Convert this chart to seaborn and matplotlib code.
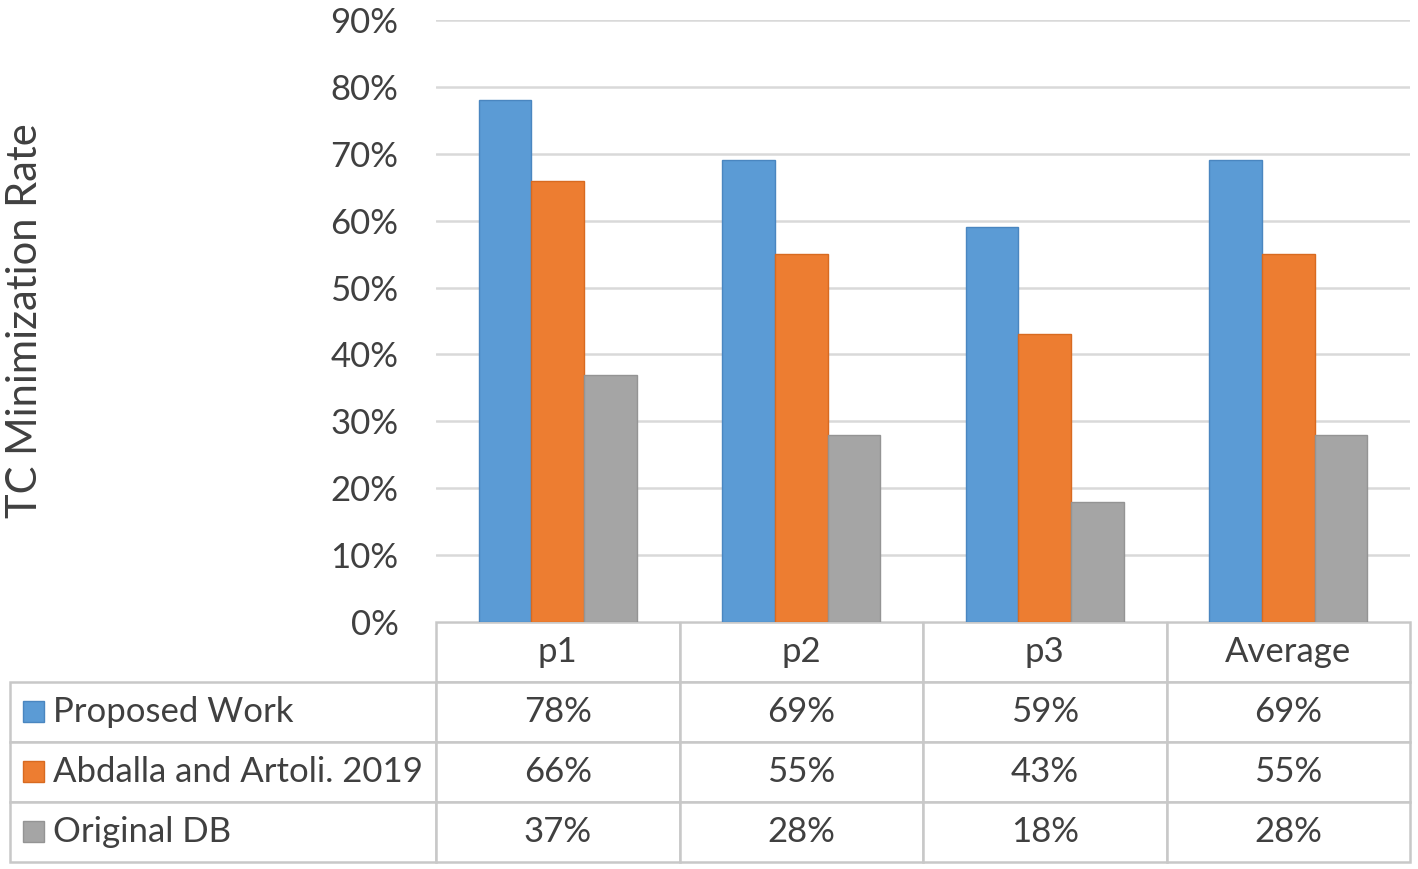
import pandas as pd
import matplotlib.pyplot as plt
import matplotlib.ticker as mtick
from matplotlib.patches import Rectangle
import seaborn as sns

categories = ['p1', 'p2', 'p3', 'Average']
methods = ['Proposed Work', 'Abdalla and Artoli. 2019', 'Original DB']
proposed = [78, 69, 59, 69]
abdalla = [66, 55, 43, 55]
original = [37, 28, 18, 28]
colors = ['#5B9BD5', '#ED7D31', '#A5A5A5']
edges = ['#4A86C0', '#D86A20', '#949494']

rows = []
for m, vals in zip(methods, [proposed, abdalla, original]):
    for c, v in zip(categories, vals):
        rows.append({'period': c, 'method': m, 'rate': v / 100})
df = pd.DataFrame(rows)

sns.set_theme(style='white')
plt.rcParams['font.family'] = ['Lato', 'DejaVu Sans']
txt = '#404040'

fig = plt.figure(figsize=(14.18, 8.69), dpi=100)
ax = fig.add_axes([436 / 1418, 1 - 622 / 869, 974 / 1418, 602 / 869])

sns.barplot(data=df, x='period', y='rate', hue='method', palette=colors,
            width=0.65, ax=ax, legend=False, saturation=1)
for i, cont in enumerate(ax.containers):
    for bar in cont:
        bar.set_edgecolor(edges[i])
        bar.set_linewidth(1)

ax.set_ylim(0, 0.9)
ax.set_yticks([i / 10 for i in range(10)])
ax.yaxis.set_major_formatter(mtick.PercentFormatter(1.0, decimals=0))
ax.grid(axis='y', color='#D9D9D9', linewidth=1.8)
ax.set_axisbelow(True)
for s in ax.spines.values():
    s.set_visible(False)
ax.set_xticklabels([])
ax.set_xlabel('')
ax.tick_params(axis='both', length=0)
ax.tick_params(axis='y', labelsize=25, labelcolor=txt, pad=27)
ax.set_ylabel('TC Minimization Rate', fontsize=30, color=txt)
ax.yaxis.set_label_coords((44 - 436) / 974, 0.5)

# data table under the plot, label column included as first column
cell_text = [[m] + [f'{v}%' for v in vals]
             for m, vals in zip(methods, [proposed, abdalla, original])]
tb_left = (10 - 436) / 974
tb_h = 240 / 602
lab_w = 426 / 974
tbl = ax.table(cellText=cell_text, colLabels=[''] + categories,
               colWidths=[lab_w] + [0.25] * 4, cellLoc='center',
               loc='bottom', bbox=[tb_left, -tb_h, 1 - tb_left, tb_h])
tbl.auto_set_font_size(False)
tbl.set_fontsize(25)
for (r, c), cell in tbl.get_celld().items():
    cell.set_edgecolor('#C8C8C8')
    cell.set_linewidth(1.8)
    cell.get_text().set_color(txt)
    if c == 0:
        cell.get_text().set_horizontalalignment('left')
        if r == 0:
            cell.visible_edges = 'open'

# legend keys inside the row labels
for i in range(3):
    yc = -tb_h + tb_h * (3 - i - 0.5) / 4
    ax.add_patch(Rectangle(((23 - 436) / 974, yc - 10 / 602), 21 / 974, 21 / 602,
                           facecolor=colors[i], edgecolor=edges[i], lw=1,
                           transform=ax.transAxes, clip_on=False))

fig.savefig('out.png', dpi=100)
